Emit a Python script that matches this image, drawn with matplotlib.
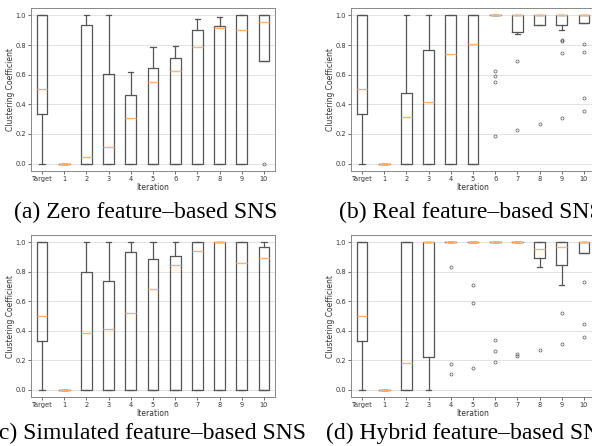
import matplotlib
matplotlib.use("Agg")
import matplotlib.pyplot as plt

labels = ["Target", "1", "2", "3", "4", "5", "6", "7", "8", "9", "10"]

# target graph is the same in every panel
target = dict(q1=0.333, med=0.5, q3=1.0, whislo=0.0, whishi=1.0, fliers=[])

# (a) zero feature-based
a_q1 = [0, 0, 0, 0, 0, 0, 0, 0, 0, 0.69]
a_med = [0, 0.045, 0.11, 0.31, 0.55, 0.625, 0.785, 0.915, 0.90, 0.955]
a_q3 = [0, 0.935, 0.605, 0.465, 0.643, 0.71, 0.903, 0.93, 1.0, 1.0]
a_lo = [0, 0, 0, 0, 0, 0, 0, 0, 0, 0.69]
a_hi = [0, 1.0, 1.0, 0.618, 0.786, 0.794, 0.975, 0.988, 1.0, 1.0]
a_fl = [[], [], [], [], [], [], [], [], [], [0.0]]

# (b) real feature-based
b_q1 = [0, 0, 0, 0, 0, 1.0, 0.885, 0.935, 0.935, 0.948]
b_med = [0, 0.315, 0.415, 0.74, 0.805, 1.0, 1.0, 1.0, 1.0, 1.0]
b_q3 = [0, 0.475, 0.766, 1.0, 1.0, 1.0, 1.0, 1.0, 1.0, 1.0]
b_lo = [0, 0, 0, 0, 0, 1.0, 0.874, 0.935, 0.90, 0.948]
b_hi = [0, 1.0, 1.0, 1.0, 1.0, 1.0, 1.0, 1.0, 1.0, 1.0]
b_fl = [[], [], [], [], [], [0.626, 0.59, 0.55, 0.187], [0.69, 0.227], [0.27],
        [0.835, 0.828, 0.748, 0.31], [0.81, 0.752, 0.446, 0.352]]

# (c) simulated feature-based
c_q1 = [0, 0, 0, 0, 0, 0, 0, 0, 0, 0]
c_med = [0, 0.386, 0.409, 0.52, 0.684, 0.846, 0.944, 1.0, 0.86, 0.896]
c_q3 = [0, 0.80, 0.74, 0.935, 0.885, 0.907, 1.0, 1.0, 1.0, 0.97]
c_lo = [0, 0, 0, 0, 0, 0, 0, 0, 0, 0]
c_hi = [0, 1.0, 1.0, 1.0, 1.0, 1.0, 1.0, 1.0, 1.0, 1.0]
c_fl = [[], [], [], [], [], [], [], [], [], []]

# (d) hybrid feature-based
d_q1 = [0, 0, 0.219, 1.0, 1.0, 1.0, 1.0, 0.896, 0.844, 0.93]
d_med = [0, 0.183, 1.0, 1.0, 1.0, 1.0, 1.0, 0.955, 0.97, 1.0]
d_q3 = [0, 1.0, 1.0, 1.0, 1.0, 1.0, 1.0, 1.0, 1.0, 1.0]
d_lo = [0, 0, 0, 1.0, 1.0, 1.0, 1.0, 0.835, 0.713, 0.93]
d_hi = [0, 1.0, 1.0, 1.0, 1.0, 1.0, 1.0, 1.0, 1.0, 1.0]
d_fl = [[], [], [], [0.835, 0.172, 0.104], [0.713, 0.585, 0.144],
        [0.334, 0.262, 0.185], [0.24, 0.23], [0.27], [0.517, 0.31],
        [0.734, 0.445, 0.357]]

captions = ["(a) Zero feature\u2013based SNS", "(b) Real feature\u2013based SNS",
            "(c) Simulated feature\u2013based SNS", "(d) Hybrid feature\u2013based SNS"]


def make_stats(q1, med, q3, lo, hi, fl):
    stats = [dict(target, label=labels[0])]
    for i in range(len(q1)):
        stats.append(dict(q1=q1[i], med=med[i], q3=q3[i], whislo=lo[i],
                          whishi=hi[i], fliers=fl[i], label=labels[i + 1]))
    return stats


panels = [
    make_stats(a_q1, a_med, a_q3, a_lo, a_hi, a_fl),
    make_stats(b_q1, b_med, b_q3, b_lo, b_hi, b_fl),
    make_stats(c_q1, c_med, c_q3, c_lo, c_hi, c_fl),
    make_stats(d_q1, d_med, d_q3, d_lo, d_hi, d_fl),
]

W, H = 592, 446
fig = plt.figure(figsize=(W / 100, H / 100), dpi=100)

# axes boxes in pixels: left, top, width, height
boxes = [(31, 8, 244, 163), (351, 8, 244, 163), (31, 235, 244, 162), (351, 235, 244, 162)]
# caption left edges / baselines (captions are clipped by the image border like the reference)
cap_pos = [(14, 218), (339, 218), (-9, 439), (326, 439)]

line_c = "#555555"
for stats, (l, t, w, h), cap, (cx, cy) in zip(panels, boxes, captions, cap_pos):
    ax = fig.add_axes([l / W, 1 - (t + h) / H, w / W, h / H])
    ax.bxp(stats, widths=0.48,
           boxprops=dict(color=line_c, linewidth=0.9),
           whiskerprops=dict(color=line_c, linewidth=0.9),
           capprops=dict(color=line_c, linewidth=0.9),
           medianprops=dict(color="#ffb37a", linewidth=1.0),
           flierprops=dict(marker="o", markersize=2.2, markerfacecolor="none",
                           markeredgecolor="#555555", markeredgewidth=0.5))
    ax.grid(axis="y", color="#dddddd", linewidth=0.6)
    ax.set_axisbelow(True)
    ax.tick_params(labelsize=4.8, width=0.5, length=2, pad=1.5, colors="#333333")
    ax.set_xlabel("Iteration", fontsize=5.5, labelpad=1, color="#333333")
    ax.set_ylabel("Clustering Coefficient", fontsize=5.5, labelpad=0.5, color="#333333")
    for s in ax.spines.values():
        s.set_color("#888888")
        s.set_linewidth(0.7)
    fig.text(cx / W, 1 - cy / H, cap, ha="left", va="baseline",
             family="Liberation Serif", fontsize=17)

fig.savefig("out.png", dpi=100)
